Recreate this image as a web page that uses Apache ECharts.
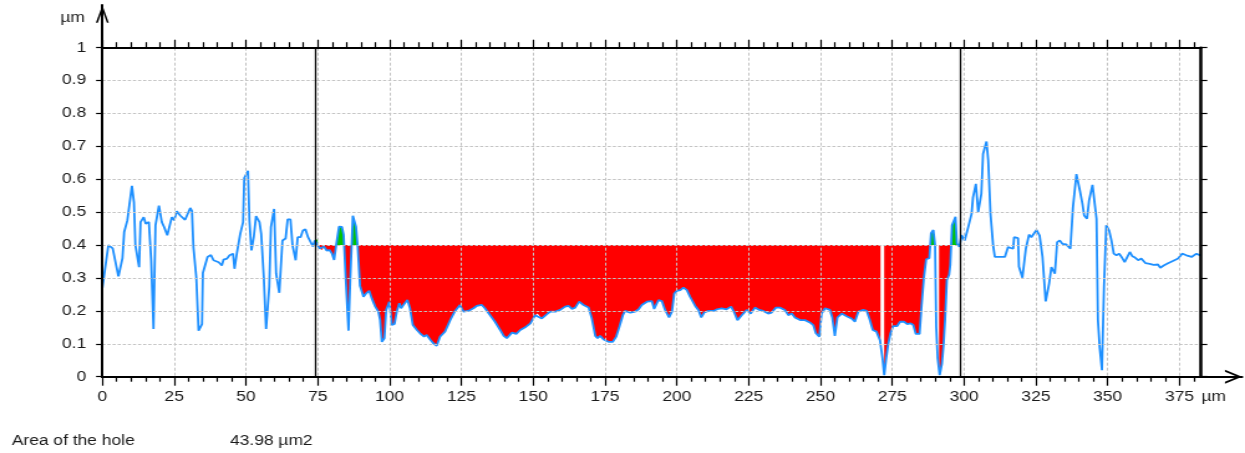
<!DOCTYPE html>
<html>
<head>
<meta charset="utf-8">
<script src="https://cdn.jsdelivr.net/npm/echarts@6/dist/echarts.min.js"></script>
<style>
html,body{margin:0;padding:0;overflow:hidden;background:#fff;width:1245px;height:453px;}
#chart{width:1000px;height:453px;transform:scaleX(1.245);transform-origin:0 0;}
</style>
</head>
<body>
<div id="chart"></div>
<script>
// ---- data ----
const profileX = [0.0,2.1,3.6,5.6,7.0,7.6,8.7,9.4,10.3,11.0,11.5,12.8,13.3,14.4,15.1,16.2,17.0,17.8,18.5,19.7,
20.7,21.5,22.6,24.2,25.0,25.9,27.1,28.8,30.6,31.2,31.7,32.7,33.5,34.7,35.0,36.6,37.8,38.7,40.5,41.6,
42.2,43.4,44.3,45.5,46.0,46.9,48.0,49.0,49.4,50.7,51.2,51.9,52.7,53.5,54.7,55.3,56.2,57.0,58.1,58.7,
59.8,60.5,61.6,62.7,63.8,64.5,65.5,66.2,67.3,68.0,69.0,69.8,70.7,71.6,73.3,74.0,74.8,75.6,76.4,77.2,
78.1,79.1,79.9,80.7,81.4,82.4,83.4,84.0,84.7,85.7,86.3,86.8,87.2,88.3,88.9,89.7,90.9,91.8,92.9,93.8,
95.0,96.1,96.7,97.3,98.2,98.8,99.9,100.8,101.7,102.5,103.4,104.0,104.8,106.2,107.1,108.1,109.5,110.6,112.0,112.9,
114.1,115.3,116.4,117.6,119.3,121.1,122.8,124.5,125.7,127.4,129.2,130.3,132.1,133.2,135.0,136.7,138.5,139.7,140.8,142.6,
144.1,145.5,147.2,149.0,150.7,151.5,153.0,154.8,155.9,157.7,159.4,161.1,162.3,163.5,164.6,166.0,167.5,169.3,170.4,171.6,
172.4,173.3,174.5,176.2,177.7,178.9,180.0,181.2,182.0,183.8,185.5,186.7,187.8,189.6,191.3,192.1,193.6,194.8,195.9,197.3,
198.3,199.1,200.0,201.2,202.3,203.5,204.6,206.4,207.5,208.5,209.5,211.0,212.8,214.0,215.6,217.3,218.9,220.0,221.1,222.6,
224.3,225.7,227.2,228.7,230.1,231.8,233.0,234.5,235.9,237.6,238.8,240.0,241.1,242.9,244.6,246.3,247.5,248.4,249.6,250.4,
251.6,253.3,254.1,255.0,255.9,257.4,259.1,260.8,262.0,263.2,264.9,266.1,267.2,268.2,269.5,270.7,271.6,272.2,272.8,273.6,
274.4,275.3,276.7,277.7,279.1,280.2,281.4,282.3,283.2,284.5,285.2,286.0,286.8,287.9,288.5,289.3,289.9,290.3,290.8,291.5,
292.3,292.9,293.4,294.0,294.8,295.2,295.8,297.0,297.5,298.4,299.1,300.2,300.8,301.6,302.6,303.1,304.1,304.9,306.0,306.6,
307.8,308.4,309.2,310.1,310.7,312.4,313.0,314.2,315.3,317.1,317.4,318.8,319.1,320.3,321.5,322.6,323.4,324.2,325.2,326.3,
327.3,328.4,329.6,330.4,331.6,332.1,332.4,333.3,334.2,335.6,337.0,337.9,339.1,340.3,341.2,341.8,342.8,343.5,344.7,345.1,
346.1,346.6,347.2,348.0,348.7,349.5,350.5,351.3,352.1,353.0,354.0,354.8,355.9,356.7,357.7,358.6,359.5,360.6,361.7,362.5,
363.2,364.6,366.0,367.5,368.3,369.5,371.0,372.5,374.5,375.9,377.4,379.2,380.9,382.1,382.5];
const profileY = [0.27,0.40,0.39,0.305,0.36,0.44,0.475,0.477,0.58,0.53,0.40,0.333,0.47,0.485,0.465,0.47,0.354,0.145,0.46,0.52,
0.47,0.455,0.43,0.485,0.475,0.503,0.49,0.477,0.513,0.503,0.394,0.303,0.14,0.16,0.315,0.364,0.37,0.354,0.348,0.338,
0.356,0.359,0.369,0.374,0.328,0.379,0.434,0.47,0.604,0.626,0.475,0.384,0.424,0.488,0.47,0.434,0.303,0.145,0.273,0.455,
0.51,0.313,0.255,0.414,0.42,0.478,0.478,0.40,0.354,0.424,0.424,0.444,0.448,0.424,0.396,0.414,0.418,0.39,0.385,0.395,
0.383,0.385,0.375,0.355,0.40,0.456,0.455,0.432,0.304,0.14,0.294,0.40,0.489,0.456,0.395,0.276,0.243,0.253,0.261,0.238,
0.213,0.198,0.172,0.106,0.117,0.203,0.228,0.157,0.16,0.198,0.223,0.208,0.218,0.233,0.208,0.157,0.142,0.132,0.122,0.127,
0.113,0.101,0.094,0.122,0.137,0.172,0.20,0.218,0.198,0.20,0.208,0.215,0.218,0.208,0.187,0.167,0.142,0.124,0.117,0.134,
0.13,0.142,0.15,0.162,0.187,0.192,0.177,0.19,0.198,0.198,0.203,0.213,0.215,0.206,0.21,0.228,0.218,0.21,0.177,0.124,
0.117,0.124,0.113,0.106,0.106,0.122,0.152,0.187,0.20,0.195,0.198,0.205,0.218,0.228,0.23,0.206,0.233,0.23,0.203,0.18,
0.198,0.253,0.261,0.263,0.271,0.263,0.243,0.215,0.203,0.18,0.195,0.20,0.20,0.205,0.208,0.205,0.213,0.195,0.172,0.187,
0.203,0.192,0.21,0.203,0.20,0.192,0.195,0.21,0.21,0.203,0.187,0.192,0.18,0.172,0.172,0.165,0.157,0.132,0.122,0.192,
0.208,0.203,0.18,0.124,0.18,0.192,0.184,0.177,0.167,0.198,0.203,0.20,0.172,0.142,0.137,0.111,0.056,0.005,0.05,0.10,
0.132,0.154,0.154,0.167,0.167,0.16,0.162,0.157,0.13,0.13,0.215,0.30,0.357,0.36,0.436,0.446,0.40,0.152,0.056,0.005,
0.04,0.10,0.177,0.294,0.31,0.34,0.46,0.486,0.405,0.395,0.43,0.414,0.414,0.46,0.495,0.545,0.586,0.50,0.556,0.677,
0.715,0.657,0.495,0.40,0.364,0.364,0.37,0.364,0.394,0.389,0.424,0.421,0.335,0.301,0.389,0.432,0.424,0.429,0.446,0.429,
0.364,0.229,0.283,0.333,0.313,0.308,0.409,0.414,0.404,0.402,0.389,0.515,0.616,0.566,0.525,0.49,0.48,0.535,0.583,0.586,
0.48,0.172,0.09,0.02,0.273,0.46,0.444,0.414,0.374,0.369,0.374,0.364,0.348,0.362,0.379,0.366,0.362,0.354,0.359,0.364,
0.345,0.343,0.34,0.341,0.331,0.338,0.345,0.351,0.359,0.374,0.369,0.364,0.374,0.369,0.37];

const xMax = 382.5;
const xMajorTicks = [0,25,50,75,100,125,150,175,200,225,250,275,300,325,350,375];
const xMinorTicks = [5,10,15,20,30,35,40,45,55,60,65,70,80,85,90,95,105,110,115,120,130,135,140,145,
155,160,165,170,180,185,190,195,205,210,215,220,230,235,240,245,255,260,265,270,280,285,290,295,
305,310,315,320,330,335,340,345,355,360,365,370,380];
const yMin = 0, yMax = 1, yInterval = 0.1;
const holeBounds = [74.0, 298.6];
const holeLevel = 0.4;
const fillGaps = [[270.9, 272.2], [289.9, 291.3]];
const areaLabel = 'Area of the hole';
const areaValue = '43.98 µm2';
const unitName = 'µm';

// ---- styling ----
const fontFamily = "'Liberation Sans', Arial, sans-serif";
const ink = '#1a1a1a';
const lineBlue = '#1e90ff';
const fillRed = '#ff0000';
const fillGreen = '#00c400';
const gridGray = '#c4c4c4';

function yAt(x) {
  for (let i = 0; i < profileX.length - 1; i++) {
    if (x >= profileX[i] && x <= profileX[i + 1]) {
      const t = (x - profileX[i]) / (profileX[i + 1] - profileX[i]);
      return profileY[i] + t * (profileY[i + 1] - profileY[i]);
    }
  }
  return profileY[profileY.length - 1];
}

function fillIntervals() {
  const out = [];
  let start = holeBounds[0];
  fillGaps.forEach(g => { out.push([start, g[0]]); start = g[1]; });
  out.push([start, holeBounds[1]]);
  return out;
}

function buildRuns() {
  const runs = [];
  fillIntervals().forEach(([a, b]) => {
    let pts = [[a, yAt(a)]];
    for (let i = 0; i < profileX.length; i++) {
      if (profileX[i] > a && profileX[i] < b) pts.push([profileX[i], profileY[i]]);
    }
    pts.push([b, yAt(b)]);
    // insert crossings with the reference level
    const p2 = [pts[0]];
    for (let i = 1; i < pts.length; i++) {
      const p = pts[i - 1], q = pts[i];
      if ((p[1] - holeLevel) * (q[1] - holeLevel) < 0) {
        const t = (holeLevel - p[1]) / (q[1] - p[1]);
        p2.push([p[0] + t * (q[0] - p[0]), holeLevel]);
      }
      p2.push(q);
    }
    let cur = null, curSign = 0;
    for (let i = 1; i < p2.length; i++) {
      const p = p2[i - 1], q = p2[i];
      const mid = (p[1] + q[1]) / 2 - holeLevel;
      const s = mid < 0 ? -1 : (mid > 0 ? 1 : 0);
      if (s === 0) { if (cur) { runs.push({sign: curSign, pts: cur}); cur = null; curSign = 0; } continue; }
      if (s !== curSign || !cur) {
        if (cur) runs.push({sign: curSign, pts: cur});
        cur = [p]; curSign = s;
      }
      cur.push(q);
    }
    if (cur) runs.push({sign: curSign, pts: cur});
  });
  return runs;
}
const fillRuns = buildRuns();

const chart = echarts.init(document.getElementById('chart'));

const axisBlack = {color: '#000', width: 2};
const tickStyle = {color: '#000', width: 1.2};

const option = {
  animation: false,
  backgroundColor: '#fff',
  textStyle: {fontFamily: fontFamily},
  title: [
    {text: areaLabel, left: 9.4, top: 434, padding: 0,
     textStyle: {fontSize: 14, fontWeight: 'normal', color: ink, fontFamily: fontFamily}},
    {text: areaValue, left: 184.7, top: 434, padding: 0,
     textStyle: {fontSize: 14, fontWeight: 'normal', color: ink, fontFamily: fontFamily}}
  ],
  grid: [
    {left: 82.2, right: 35.3, top: 47.7, bottom: 76.3},
    {left: 82.2, right: 2.4, top: 5, bottom: 76.3}
  ],
  xAxis: [
    { // 0: main bottom axis
      type: 'value', gridIndex: 0, position: 'bottom', min: 0, max: xMax,
      name: unitName, nameLocation: 'end', nameGap: -3.3,
      nameTextStyle: {fontSize: 14, color: ink, align: 'left', verticalAlign: 'top', padding: [13, 0, 0, 0]},
      axisLine: {show: true, onZero: false, lineStyle: axisBlack},
      axisTick: {show: true, inside: false, length: 9, lineStyle: tickStyle, customValues: xMajorTicks},
      axisLabel: {show: true, margin: 13, fontSize: 14, color: ink, customValues: xMajorTicks},
      splitLine: {show: true, lineStyle: {color: gridGray, type: [3, 2], width: 1}},
      z: 5
    },
    { // 1: bottom minor ticks
      type: 'value', gridIndex: 0, position: 'bottom', min: 0, max: xMax,
      axisLine: {show: false, onZero: false},
      axisTick: {show: true, inside: false, length: 5, lineStyle: tickStyle, customValues: xMinorTicks},
      axisLabel: {show: false}, splitLine: {show: false}, z: 5
    },
    { // 2: top axis
      type: 'value', gridIndex: 0, position: 'top', min: 0, max: xMax,
      axisLine: {show: true, onZero: false, lineStyle: axisBlack},
      axisTick: {show: true, inside: false, length: 8, lineStyle: tickStyle, customValues: xMajorTicks},
      axisLabel: {show: false}, splitLine: {show: false}, z: 5
    },
    { // 3: top minor ticks
      type: 'value', gridIndex: 0, position: 'top', min: 0, max: xMax,
      axisLine: {show: false, onZero: false},
      axisTick: {show: true, inside: false, length: 5.5, lineStyle: tickStyle, customValues: xMinorTicks},
      axisLabel: {show: false}, splitLine: {show: false}, z: 5
    },
    { // 4: long arrow axis
      type: 'value', gridIndex: 1, position: 'bottom', min: 0, max: 1,
      axisLine: {show: true, onZero: false, lineStyle: axisBlack,
        symbol: ['none', 'path://M7,0 L14,13.7 L12,13.7 L7,3.9 L2,13.7 L0,13.7 Z'],
        symbolSize: [14, 13.7], symbolOffset: [0, -6.85]},
      axisTick: {show: false}, axisLabel: {show: false}, splitLine: {show: false}, z: 5
    }
  ],
  yAxis: [
    { // 0: left main
      type: 'value', gridIndex: 0, position: 'left', min: yMin, max: yMax, interval: yInterval,
      name: unitName, nameLocation: 'end', nameGap: 30,
      nameTextStyle: {fontSize: 14, color: ink, align: 'right', verticalAlign: 'middle', padding: [0, 14, 0, 0]},
      axisLine: {show: true, onZero: false, lineStyle: axisBlack},
      axisTick: {show: true, inside: false, length: 5, lineStyle: tickStyle},
      axisLabel: {show: true, margin: 13, fontSize: 14, color: ink},
      splitLine: {show: true, lineStyle: {color: gridGray, type: [2.5, 1.6], width: 1}},
      z: 5
    },
    { // 1: right border
      type: 'value', gridIndex: 0, position: 'right', min: yMin, max: yMax, interval: yInterval,
      axisLine: {show: true, onZero: false, lineStyle: {color: '#000', width: 2.5}},
      axisTick: {show: true, inside: false, length: 5, lineStyle: tickStyle},
      axisLabel: {show: false}, splitLine: {show: false}, z: 5
    },
    { // 2: long arrow axis
      type: 'value', gridIndex: 1, position: 'left', min: 0, max: 1,
      axisLine: {show: true, onZero: false, lineStyle: axisBlack,
        symbol: ['none', 'path://M5,0 L10,17 L8.5,17 L5,5 L1.5,17 L0,17 Z'],
        symbolSize: [10.4, 18], symbolOffset: [0, -9]},
      axisTick: {show: false}, axisLabel: {show: false}, splitLine: {show: false}, z: 5
    }
  ],
  series: [
    {
      type: 'custom', name: 'hole', xAxisIndex: 0, yAxisIndex: 0, z: 2, silent: true,
      data: [[holeBounds[0], holeLevel]],
      renderItem: function (params, api) {
        const children = fillRuns.map(run => {
          const first = run.pts[0], last = run.pts[run.pts.length - 1];
          const pts = [api.coord([first[0], holeLevel])];
          run.pts.forEach(p => pts.push(api.coord(p)));
          pts.push(api.coord([last[0], holeLevel]));
          return {type: 'polygon', shape: {points: pts},
                  style: {fill: run.sign < 0 ? fillRed : fillGreen, stroke: null}};
        });
        return {type: 'group', children: children};
      }
    },
    {
      type: 'line', name: 'profile', xAxisIndex: 0, yAxisIndex: 0, z: 3,
      data: profileX.map((x, i) => [x, profileY[i]]),
      showSymbol: false, symbol: 'none', clip: true,
      lineStyle: {color: lineBlue, width: 1.8},
      markLine: {
        silent: true, symbol: ['none', 'none'], animation: false,
        label: {show: false},
        lineStyle: {color: '#000', width: 1.3, type: 'solid'},
        emphasis: {disabled: true},
        data: holeBounds.map(v => ({xAxis: v}))
      }
    }
  ]
};
chart.setOption(option);
</script>
</body>
</html>
